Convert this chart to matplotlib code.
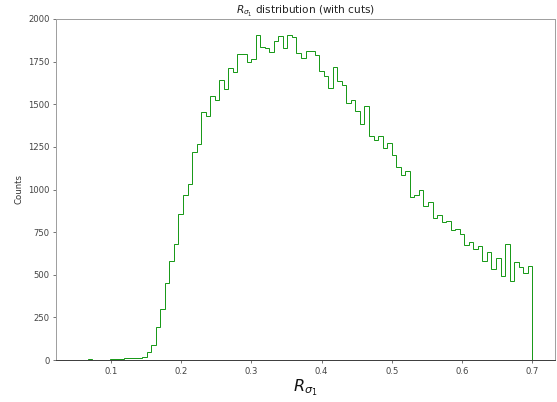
import numpy as np
import matplotlib
matplotlib.use("Agg")
import matplotlib.pyplot as plt

# Histogram data (100 bins between min and max of the sample)
x_min = 0.054
x_max = 0.70
n_bins = 100
counts = [
    0, 0, 3, 0, 1, 2, 2, 3, 8, 8,
    10, 12, 12, 12, 16, 45, 86, 192, 297, 450,
    580, 682, 854, 966, 1034, 1218, 1265, 1456, 1433, 1550,
    1523, 1644, 1589, 1711, 1687, 1793, 1793, 1750, 1765, 1908,
    1834, 1828, 1806, 1873, 1902, 1828, 1904, 1896, 1802, 1771,
    1814, 1810, 1791, 1697, 1668, 1596, 1717, 1637, 1615, 1510,
    1524, 1462, 1383, 1491, 1314, 1292, 1312, 1245, 1270, 1205,
    1130, 1085, 1110, 955, 965, 997, 903, 929, 835, 849,
    812, 815, 762, 770, 740, 677, 693, 652, 667, 581,
    635, 533, 598, 492, 678, 463, 573, 544, 508, 550,
]
y_ticks = [0, 250, 500, 750, 1000, 1250, 1500, 1750, 2000]
x_ticks = [0.1, 0.2, 0.3, 0.4, 0.5, 0.6, 0.7]

edges = np.linspace(x_min, x_max, n_bins + 1)
centers = 0.5 * (edges[:-1] + edges[1:])

fig = plt.figure(figsize=(557 / 72, 402 / 72), dpi=72)
ax = fig.add_axes([56 / 557, 1 - 360 / 402, (555 - 56) / 557, (360 - 19) / 402])

ax.hist(centers, bins=edges, weights=counts, histtype="step", color="#1a9a1a", linewidth=1.0)

ax.set_ylim(0, 2000)
ax.set_yticks(y_ticks)
ax.set_xticks(x_ticks)
ax.set_xticklabels([f"{t:.1f}" for t in x_ticks])

for s in ax.spines.values():
    s.set_color("#a0a0a0")
    s.set_linewidth(1.0)
ax.spines["bottom"].set_color("#404040")
ax.tick_params(axis="both", colors="#555555", labelsize=8.5, length=3, width=0.8, labelcolor="#444444")

ax.set_title(r"$R_{\sigma_1}$ distribution (with cuts)", fontsize=10.5, color="#222222", pad=4)
ax.set_xlabel(r"$R_{\sigma_1}$", fontsize=16, color="#111111", labelpad=2)
ax.set_ylabel("Counts", fontsize=8.5, color="#333333", labelpad=5)

fig.savefig("out.png", dpi=72)
